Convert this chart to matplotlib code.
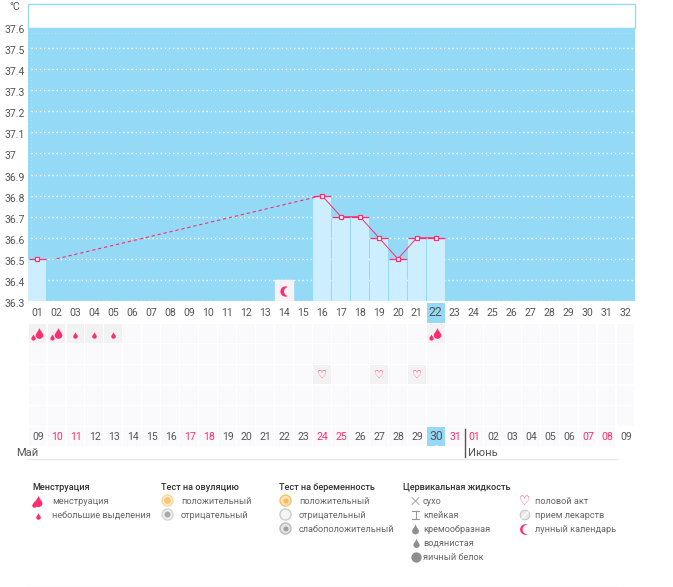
import matplotlib
matplotlib.use("Agg")
import matplotlib.pyplot as plt
from matplotlib.path import Path
from matplotlib.patches import Rectangle, Circle

plt.rcParams['font.family'] = ['Roboto', 'DejaVu Sans']

W, H = 673, 587

temp_ticks = ["37.6", "37.5", "37.4", "37.3", "37.2", "37.1", "37", "36.9", "36.8",
              "36.7", "36.6", "36.5", "36.4", "36.3"]
cycle_days = ["%02d" % d for d in range(1, 33)]
dates = ["09", "10", "11", "12", "13", "14", "15", "16", "17", "18", "19", "20", "21", "22", "23", "24",
         "25", "26", "27", "28", "29", "30", "31", "01", "02", "03", "04", "05", "06", "07", "08", "09"]
red_dates = [2, 3, 9, 10, 16, 17, 23, 24, 30, 31]  # columns with a red date

bar_days = [1, 16, 17, 18, 19, 20, 21, 22]
bar_temps = [36.5, 36.8, 36.7, 36.7, 36.6, 36.5, 36.6, 36.6]
solid_days = [16, 17, 18, 19, 20, 21, 22]
solid_temps = [36.8, 36.7, 36.7, 36.6, 36.5, 36.6, 36.6]
dash_days = [2, 16]
dash_temps = [36.5, 36.8]

heavy_days = [1, 2, 22]
light_days = [3, 4, 5]
sex_days = [16, 19, 21]
moon_day = 14
today = 22

BLUE = "#94d9f5"
PINK = "#ff2d6e"
CELL = "#faf9fb"
CELL_ON = "#f2f2f3"
GRAY = "#555555"

DROP = Path([(0, 1), (0.25, 0.35), (0.7, 0.05), (0.7, -0.35), (0.7, -0.8), (0.25, -1), (0, -1),
             (-0.25, -1), (-0.7, -0.8), (-0.7, -0.35), (-0.7, 0.05), (-0.25, 0.35), (0, 1)],
            [Path.MOVETO, Path.CURVE4, Path.CURVE4, Path.CURVE4, Path.CURVE4, Path.CURVE4, Path.CURVE4,
             Path.CURVE4, Path.CURVE4, Path.CURVE4, Path.CURVE4, Path.CURVE4, Path.CURVE4])


def axes_px(fig, x0, y0, x1, y1):
    return fig.add_axes([x0 / W, 1 - y1 / H, (x1 - x0) / W, (y1 - y0) / H])


fig = plt.figure(figsize=(W / 100, H / 100), dpi=100)

# overlay in pixels for text and decoration
pix = axes_px(fig, 0, 0, W, H)
pix.set_xlim(0, W)
pix.set_ylim(H, 0)
pix.axis("off")
pix.set_zorder(10)

# temperature chart
ax = axes_px(fig, 28, 27, 635, 301)
ax.set_xlim(0.5, 32.5)
ax.set_ylim(36.3, 37.6)
ax.set_facecolor(BLUE)
for s in ax.spines.values():
    s.set_visible(False)
ax.set_xticks([])
ax.set_yticks([])

for label in temp_ticks:
    v = float(label)
    if v < 37.6:
        ax.plot([0.66, 32.5], [v, v], color="white", lw=1, ls=(0, (1, 2)), zorder=1, clip_on=False)
    pix.text(5, 30 + (37.6 - v) / 0.1 * 21.08, label, fontsize=7.6, color=GRAY, ha="left", va="center")
ax.plot([0.66, 32.5], [37.57, 37.57], color="white", lw=0.8, ls=(0, (1, 2)), alpha=0.25, zorder=1)
ax.plot([0.66, 0.66], [36.3, 37.6], color="white", lw=0.8, ls=(0, (1, 2)), alpha=0.25, zorder=1)

ax.bar(bar_days, [t - 36.3 for t in bar_temps], bottom=36.3, width=0.95, color="#cceeff", zorder=2)
ax.add_patch(Rectangle((moon_day - 0.47, 36.3), 0.94, 0.1, color="#f5f3f5", zorder=2))
ax.scatter([moon_day + 0.05], [36.348], s=55, color=PINK, zorder=3, linewidths=0)
ax.scatter([moon_day + 0.2], [36.348], s=42, color="#f5f3f5", zorder=4, linewidths=0)

ax.plot(dash_days, dash_temps, color=PINK, lw=0.8, ls=(0, (3, 2.5)), zorder=4)
ax.plot(solid_days, solid_temps, color=PINK, lw=0.7, zorder=4)
ax.hlines(bar_temps, [d - 0.47 for d in bar_days], [d + 0.47 for d in bar_days], color=PINK, lw=0.9, zorder=5)
ax.plot(bar_days, bar_temps, ls="", marker="s", ms=3.2, mfc="white", mec=PINK, mew=0.9, zorder=6)

# box over the chart
pix.add_patch(Rectangle((27.5, 3.5), 607, 24, fc="white", ec=BLUE, lw=1))
pix.text(15, 7, "°C", fontsize=7.6, color=GRAY, ha="center", va="center")

# day cells
grid = axes_px(fig, 28, 323, 635, 447)
grid.set_xlim(0.5, 32.5)
grid.set_ylim(6, 0)
grid.axis("off")
for row in range(6):
    for day in range(1, 33):
        if row == 5 and day == 32:
            continue
        on = (row == 0 and day in heavy_days + light_days) or (row == 2 and day in sex_days)
        c = CELL_ON if on else CELL
        if row == 5 and day == today:
            c = BLUE
        grid.add_patch(Rectangle((day - 0.47, row + 0.03), 0.94, 0.94, color=c, lw=0))

grid.scatter([d + 0.06 for d in heavy_days], [0.5] * len(heavy_days), marker=DROP, s=60, color=PINK, linewidths=0, zorder=3)
grid.scatter([d - 0.24 for d in heavy_days], [0.68] * len(heavy_days), marker=DROP, s=20, color=PINK, linewidths=0, zorder=3)
grid.scatter(light_days, [0.57] * len(light_days), marker=DROP, s=22, color=PINK, linewidths=0, zorder=3)
for d in sex_days:
    grid.text(d, 2.52, "♡", fontsize=8, color=PINK, ha="center", va="center", family="DejaVu Sans")

# labels under the chart and in the bottom row
pix.add_patch(Rectangle((427, 303), 18.2, 19.5, color=BLUE, lw=0))
for i, label in enumerate(cycle_days):
    x = 28 + (i + 0.5) * 607 / 32
    big_one = i + 1 == today
    pix.text(x, 312.5, label, fontsize=8.8 if big_one else 7.6, color=GRAY, ha="center", va="center")
for i, label in enumerate(dates):
    x = 28.5 + (i + 0.5) * 607 / 32
    big_one = i + 1 == today
    col = PINK if i + 1 in red_dates else GRAY
    pix.text(x, 436 if big_one else 437.5, label, fontsize=8.8 if big_one else 7.6, color=col, ha="center", va="center")
pix.scatter([436], [446], marker="*", s=10, color="white", zorder=5, linewidths=0)

pix.plot([464.5, 464.5], [429, 457], color="#555555", lw=1)
pix.text(16, 453, "Май", fontsize=8, color=GRAY, va="center")
pix.text(468, 453, "Июнь", fontsize=8, color=GRAY, va="center")
pix.plot([27, 617], [458.5, 458.5], color="#e8e8e8", lw=1)
pix.plot([27, 617], [586.5, 586.5], color="#e8e8e8", lw=1)

# legend
headings = [(32, "Менструация"), (161, "Тест на овуляцию"), (279, "Тест на беременность"), (403, "Цервикальная жидкость")]
for x, t in headings:
    pix.text(x, 487, t, fontsize=6.6, color="#333333", va="center", fontweight="medium")

items = [(52, 501, "менструация"), (52, 515, "небольшие выделения"),
         (181, 501, "положительный"), (181, 515, "отрицательный"),
         (299, 501, "положительный"), (299, 515, "отрицательный"), (299, 529, "слабоположительный"),
         (423, 501, "сухо"), (423, 515, "клейкая"), (423, 529, "кремообразная"),
         (423, 543, "водянистая"), (423, 557, "яичный белок"),
         (535, 501, "половой акт"), (535, 515, "прием лекарств"), (535, 529, "лунный календарь")]
for x, y, t in items:
    pix.text(x, y, t, fontsize=6.6, color="#666666", va="center")

pix.scatter([38], [501], marker=DROP, s=65, color=PINK, linewidths=0)
pix.scatter([34], [503.5], marker=DROP, s=22, color=PINK, linewidths=0)
pix.scatter([37.5], [515.5], marker=DROP, s=22, color=PINK, linewidths=0)

pix.add_patch(Circle((167.5, 500.5), 5.5, fc="#fdf0d8", ec="#f8d9a0", lw=1))
pix.add_patch(Circle((167.5, 500.5), 3.5, fc="#f7c873", lw=0))
pix.add_patch(Circle((167.5, 514.5), 5.5, fc="#f0f0f0", ec="#d5d5d5", lw=1))
pix.add_patch(Circle((167.5, 514.5), 3, fc="#a8a8a8", lw=0))

pix.add_patch(Circle((285.5, 500.5), 5.5, fc="#fbe3b5", ec="#f3c36e", lw=1))
pix.add_patch(Circle((286, 501), 2.5, fc="#f5b860", lw=0))
pix.add_patch(Circle((285.5, 514.5), 5.5, fc="#f4f4f4", ec="#cccccc", lw=1))
pix.add_patch(Circle((285.5, 528.5), 5.5, fc="#e4e4e4", ec="#bbbbbb", lw=1))
pix.add_patch(Circle((286, 529), 2.5, fc="#a0a0a0", lw=0))

# cervical fluid icons
pix.plot([412, 419], [497.5, 504.5], color="#999999", lw=0.6)
pix.plot([419, 412], [497.5, 504.5], color="#999999", lw=0.6)
pix.plot([412, 419, 415.5, 415.5, 412, 419], [511, 511, 511, 519, 519, 519], color="#999999", lw=0.8)
pix.scatter([415], [529], marker=DROP, s=50, color="#8f8f8f", linewidths=0)
pix.scatter([415.5], [543], marker=DROP, s=42, color="#8f8f8f", linewidths=0)
pix.scatter([415.5], [557], marker="o", s=55, color="#8f8f8f", linewidths=0)

# other icons
pix.text(524.5, 501, "♡", fontsize=9, color=PINK, ha="center", va="center", family="DejaVu Sans")
pix.add_patch(Circle((525, 515), 4.8, fc="#e8e8e8", ec="#c8c8c8", lw=0.8))
pix.plot([522, 528], [518, 512], color="white", lw=1)
pix.scatter([524.5], [529], s=60, color=PINK, linewidths=0)
pix.scatter([527], [529], s=50, color="white", linewidths=0)

fig.savefig("out.png", dpi=100)
